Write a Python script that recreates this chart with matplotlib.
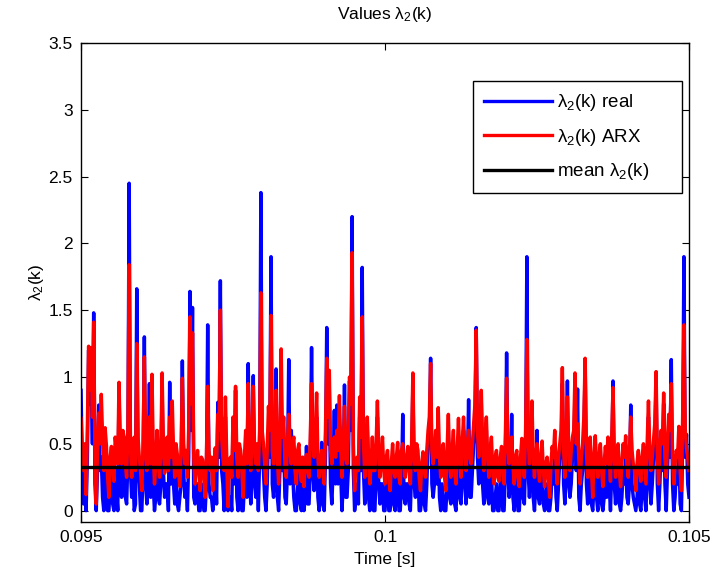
import numpy as np
import matplotlib
matplotlib.use("Agg")
from matplotlib import pyplot as plt

plt.rcParams['font.family'] = ['Liberation Sans', 'DejaVu Sans']
plt.rcParams['mathtext.fontset'] = 'custom'
plt.rcParams['mathtext.rm'] = 'Liberation Sans'
plt.rcParams['mathtext.it'] = 'Liberation Sans:italic'

# lambda_2(k) real (blue), one value per sample
lambda_real = [
    0.90, 0.30, 0.05, 0.20, 0.00, 0.40, 1.20, 0.80, 1.00, 0.50, 1.48, 0.20, 0.00, 0.30, 0.79, 0.30, 0.40, 0.10, 0.00, 0.40,
    0.10, 0.00, 0.00, 0.20, 0.35, 0.05, 0.00, 0.30, 0.15, 0.00, 0.90, 0.30, 0.10, 0.40, 0.55, 0.10, 0.05, 0.40, 2.45, 0.30,
    0.10, 0.30, 0.00, 0.05, 1.66, 0.30, 0.20, 0.00, 0.00, 0.30, 1.30, 0.20, 0.05, 0.30, 0.95, 0.10, 0.80, 0.20, 0.00, 0.10,
    0.30, 0.10, 0.05, 0.20, 0.90, 0.30, 0.10, 0.20, 0.20, 0.00, 0.96, 0.20, 0.60, 0.20, 0.05, 0.30, 0.05, 0.00, 0.10, 0.20,
    1.12, 0.30, 0.10, 0.20, 0.00, 0.40, 1.64, 0.60, 1.52, 0.10, 0.05, 0.10, 0.20, 0.00, 0.00, 0.20, 0.15, 0.00, 0.00, 0.20,
    1.39, 0.20, 0.10, 0.10, 0.00, 0.10, 0.30, 0.05, 0.81, 0.40, 1.72, 0.30, 0.20, 0.00, 0.70, 0.10, 0.00, 0.10, 0.10, 0.00,
    0.65, 0.20, 0.90, 0.10, 0.00, 0.30, 0.10, 0.00, 0.00, 0.20, 0.40, 0.10, 1.10, 0.30, 0.05, 0.30, 1.01, 0.20, 0.10, 0.30,
    0.00, 0.40, 2.38, 0.40, 0.30, 0.10, 0.00, 0.20, 0.60, 0.40, 1.90, 0.20, 0.10, 0.30, 1.06, 0.10, 0.00, 0.30, 0.90, 0.30,
    0.50, 0.10, 0.05, 0.30, 1.13, 0.20, 0.60, 0.30, 0.10, 0.00, 0.00, 0.20, 0.30, 0.05, 0.00, 0.20, 0.00, 0.10, 0.48, 0.05,
    0.05, 0.30, 1.22, 0.30, 0.15, 0.40, 0.70, 0.10, 0.00, 0.10, 0.51, 0.05, 0.00, 0.40, 1.37, 0.50, 0.90, 0.20, 0.05, 0.30,
    0.75, 0.20, 0.79, 0.20, 0.60, 0.30, 0.00, 0.20, 0.94, 0.10, 0.10, 0.30, 0.97, 0.60, 2.20, 0.30, 0.00, 0.10, 0.20, 0.05,
    0.70, 0.30, 1.82, 0.30, 0.05, 0.20, 0.60, 0.10, 0.00, 0.10, 0.40, 0.00, 0.00, 0.30, 0.70, 0.20, 0.05, 0.20, 0.20, 0.00,
    0.00, 0.20, 0.30, 0.00, 0.00, 0.10, 0.40, 0.05, 0.00, 0.20, 0.40, 0.00, 0.00, 0.20, 0.72, 0.10, 0.05, 0.20, 0.20, 0.05,
    0.00, 0.30, 0.95, 0.20, 0.10, 0.30, 0.32, 0.00, 0.00, 0.10, 0.35, 0.05, 0.00, 0.20, 0.50, 0.50, 1.14, 0.20, 0.10, 0.20,
    0.50, 0.20, 0.60, 0.10, 0.00, 0.20, 0.10, 0.00, 0.00, 0.20, 0.60, 0.10, 0.05, 0.20, 0.40, 0.05, 0.00, 0.20, 0.55, 0.10,
    0.05, 0.30, 0.60, 0.20, 0.05, 0.30, 0.83, 0.10, 0.10, 0.30, 0.50, 0.60, 1.37, 0.40, 0.20, 0.30, 0.80, 0.20, 0.05, 0.30,
    0.60, 0.10, 0.05, 0.20, 0.30, 0.00, 0.00, 0.10, 0.20, 0.00, 0.00, 0.20, 0.30, 0.00, 0.00, 0.30, 1.18, 0.30, 0.10, 0.20,
    0.72, 0.10, 0.00, 0.20, 0.30, 0.00, 0.00, 0.20, 0.40, 0.10, 0.05, 0.40, 1.90, 0.30, 0.10, 0.30, 0.70, 0.10, 0.00, 0.20,
    0.60, 0.10, 0.05, 0.20, 0.40, 0.05, 0.00, 0.10, 0.20, 0.00, 0.00, 0.10, 0.30, 0.20, 0.50, 0.10, 0.00, 0.20, 0.40, 0.40,
    0.95, 0.20, 0.05, 0.30, 0.97, 0.20, 0.10, 0.20, 0.40, 0.40, 0.90, 0.30, 0.91, 0.10, 0.00, 0.20, 0.30, 0.50, 1.10, 0.20,
    0.05, 0.20, 0.40, 0.05, 0.00, 0.20, 0.50, 0.10, 0.00, 0.20, 0.45, 0.05, 0.00, 0.10, 0.30, 0.10, 0.40, 0.20, 0.00, 0.30,
    0.97, 0.20, 0.05, 0.20, 0.30, 0.05, 0.00, 0.10, 0.30, 0.20, 0.40, 0.10, 0.05, 0.20, 0.79, 0.20, 0.10, 0.05, 0.00, 0.10,
    0.30, 0.05, 0.00, 0.20, 0.40, 0.10, 0.00, 0.30, 0.70, 0.20, 0.05, 0.20, 0.40, 0.50, 0.95, 0.20, 0.00, 0.20, 0.50, 0.30,
    0.80, 0.20, 0.00, 0.30, 0.60, 0.40, 1.13, 0.20, 0.00, 0.10, 0.30, 0.20, 0.50, 0.05, 0.00, 0.50, 1.90, 0.40, 0.57, 0.20,
    0.10,
]

# lambda_2(k) ARX estimate (red)
lambda_arx = [
    0.69, 0.45, 0.30, 0.50, 0.12, 0.60, 1.23, 0.90, 1.22, 0.70, 1.41, 0.40, 0.05, 0.45, 0.73, 0.50, 0.87, 0.55, 0.30, 0.62,
    0.49, 0.25, 0.10, 0.40, 0.48, 0.30, 0.22, 0.55, 0.45, 0.35, 0.96, 0.50, 0.35, 0.60, 0.55, 0.35, 0.25, 0.60, 1.84, 0.50,
    0.25, 0.50, 0.55, 0.30, 1.25, 0.55, 0.40, 0.30, 0.15, 0.50, 1.15, 0.45, 0.30, 0.55, 0.70, 0.35, 1.02, 0.45, 0.20, 0.35,
    0.60, 0.40, 0.25, 0.45, 1.03, 0.50, 0.28, 0.40, 0.55, 0.30, 0.70, 0.40, 0.82, 0.45, 0.25, 0.50, 0.42, 0.30, 0.18, 0.45,
    0.99, 0.50, 0.35, 0.45, 0.25, 0.60, 1.45, 0.80, 1.33, 0.40, 0.20, 0.35, 0.45, 0.30, 0.15, 0.40, 0.38, 0.25, 0.10, 0.40,
    0.93, 0.45, 0.30, 0.40, 0.15, 0.35, 0.47, 0.30, 0.72, 0.60, 1.50, 0.55, 0.40, 0.30, 0.85, 0.40, 0.03, 0.35, 0.40, 0.25,
    0.70, 0.45, 0.93, 0.40, 0.25, 0.50, 0.45, 0.30, 0.10, 0.40, 0.60, 0.35, 0.95, 0.50, 0.30, 0.55, 0.93, 0.45, 0.35, 0.50,
    0.30, 0.60, 1.63, 0.60, 0.50, 0.35, 0.20, 0.45, 0.78, 0.60, 1.46, 0.45, 0.35, 0.55, 0.90, 0.40, 0.20, 0.50, 1.21, 0.55,
    0.70, 0.35, 0.25, 0.50, 0.72, 0.45, 0.35, 0.50, 0.55, 0.30, 0.20, 0.45, 0.50, 0.30, 0.22, 0.40, 0.18, 0.35, 0.42, 0.30,
    0.25, 0.55, 0.95, 0.50, 0.40, 0.60, 0.88, 0.40, 0.25, 0.35, 0.45, 0.30, 0.20, 0.60, 1.14, 0.70, 1.05, 0.45, 0.35, 0.50,
    0.55, 0.40, 0.60, 0.45, 0.86, 0.50, 0.25, 0.45, 0.78, 0.40, 0.35, 0.55, 1.00, 0.80, 1.93, 0.50, 0.15, 0.35, 0.40, 0.30,
    0.85, 0.55, 1.45, 0.50, 0.25, 0.45, 0.70, 0.40, 0.20, 0.35, 0.55, 0.30, 0.30, 0.50, 0.82, 0.45, 0.25, 0.40, 0.55, 0.30,
    0.20, 0.40, 0.45, 0.25, 0.15, 0.35, 0.50, 0.30, 0.25, 0.40, 0.51, 0.25, 0.20, 0.45, 0.50, 0.35, 0.25, 0.40, 0.48, 0.30,
    0.20, 0.50, 1.03, 0.40, 0.30, 0.50, 0.45, 0.25, 0.15, 0.35, 0.44, 0.30, 0.25, 0.45, 0.60, 0.70, 1.10, 0.45, 0.35, 0.45,
    0.60, 0.40, 0.77, 0.40, 0.25, 0.40, 0.50, 0.25, 0.15, 0.45, 0.72, 0.35, 0.25, 0.45, 0.60, 0.30, 0.20, 0.45, 0.69, 0.40,
    0.25, 0.50, 0.70, 0.45, 0.30, 0.50, 0.60, 0.40, 0.35, 0.50, 0.65, 0.80, 1.35, 0.60, 0.40, 0.55, 0.90, 0.50, 0.30, 0.55,
    0.70, 0.40, 0.25, 0.45, 0.55, 0.30, 0.20, 0.40, 0.45, 0.25, 0.22, 0.40, 0.48, 0.30, 0.20, 0.55, 0.99, 0.50, 0.35, 0.45,
    0.55, 0.35, 0.20, 0.40, 0.45, 0.25, 0.18, 0.40, 0.54, 0.35, 0.25, 0.60, 1.28, 0.55, 0.35, 0.50, 0.82, 0.40, 0.25, 0.40,
    0.50, 0.35, 0.22, 0.40, 0.52, 0.30, 0.18, 0.35, 0.40, 0.25, 0.10, 0.35, 0.48, 0.40, 0.60, 0.35, 0.20, 0.40, 0.50, 0.60,
    1.07, 0.45, 0.25, 0.55, 0.85, 0.45, 0.30, 0.45, 0.55, 0.60, 1.03, 0.50, 0.65, 0.40, 0.20, 0.40, 0.50, 0.70, 1.14, 0.45,
    0.25, 0.40, 0.55, 0.30, 0.10, 0.40, 0.56, 0.35, 0.25, 0.40, 0.50, 0.30, 0.18, 0.35, 0.48, 0.35, 0.55, 0.40, 0.22, 0.55,
    0.92, 0.40, 0.25, 0.45, 0.50, 0.30, 0.18, 0.35, 0.50, 0.40, 0.56, 0.35, 0.25, 0.45, 0.70, 0.45, 0.35, 0.30, 0.15, 0.35,
    0.45, 0.30, 0.22, 0.40, 0.50, 0.35, 0.20, 0.50, 0.82, 0.45, 0.30, 0.40, 0.53, 0.65, 1.04, 0.40, 0.20, 0.45, 0.60, 0.50,
    0.88, 0.40, 0.25, 0.50, 0.72, 0.60, 0.95, 0.40, 0.20, 0.35, 0.45, 0.40, 0.63, 0.30, 0.15, 0.70, 1.39, 0.60, 0.47, 0.40,
    0.30,
]

mean_lambda = 0.33
t_start, t_end = 0.095, 0.105
time = np.linspace(t_start, t_end, len(lambda_real))

fig = plt.figure(figsize=(7.12, 5.76), dpi=100)
ax = fig.add_axes([0.1138, 0.0938, 0.8539, 0.8316])

ax.plot(time, lambda_real, color='#0000ff', lw=2.5, label='λ$_2$(k) real     ')
ax.plot(time, lambda_arx, color='#ff0000', lw=2.5, label='λ$_2$(k) ARX     ')
ax.axhline(mean_lambda, color='black', lw=2.4, label='mean λ$_2$(k)     ')

ax.set_xlim(t_start, t_end)
ax.set_ylim(-0.085, 3.5)
ax.set_xticks([0.095, 0.1, 0.105])
ax.set_xticklabels(['0.095', '0.1', '0.105'])
ax.set_yticks(np.arange(0, 3.51, 0.5))
ax.set_yticklabels(['0', '0.5', '1', '1.5', '2', '2.5', '3', '3.5'])
ax.tick_params(direction='in', top=True, right=True, labelsize=12.5, length=5, pad=6)
for s in ax.spines.values():
    s.set_linewidth(1.0)

ax.set_title('Values λ$_2$(k)', fontsize=12.5, pad=17)
ax.set_xlabel('Time [s]', fontsize=12.5, labelpad=5)
ax.set_ylabel('λ$_2$(k)', fontsize=12.5, labelpad=2)

leg = ax.legend(loc='upper right', bbox_to_anchor=(0.9885, 0.9207), borderaxespad=0,
                fancybox=False, edgecolor='black', fontsize=13.5, handlelength=3.6,
                labelspacing=0.72, borderpad=0.6, handletextpad=0.25)
leg.get_frame().set_linewidth(1.0)
leg.get_frame().set_alpha(1.0)
for h in leg.get_lines():
    h.set_linewidth(2.4)

fig.savefig('out.png', dpi=100)
